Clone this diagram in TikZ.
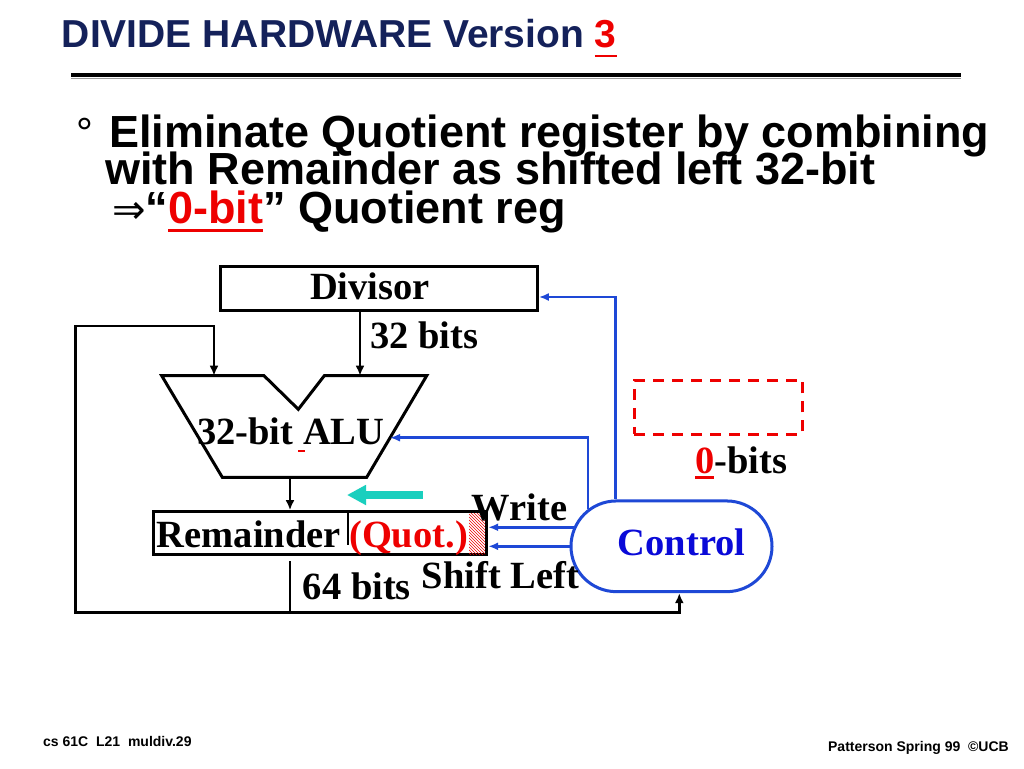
\documentclass[tikz,border=0pt]{standalone}
\usepackage{fontspec}
\setmainfont{Liberation Serif}
\newfontfamily\hvfont{Liberation Sans}
\newfontfamily\arrowglyph{DejaVu Sans}
\usetikzlibrary{arrows.meta,positioning,calc,patterns,shapes.misc}
\definecolor{Navy}{HTML}{14215A}
\definecolor{Hot}{HTML}{EE0000}
\definecolor{CtlLine}{HTML}{1E48D6}
\definecolor{CtlText}{HTML}{0A0AD8}
\definecolor{Shift}{HTML}{1ACFBE}
\definecolor{RuleGray}{HTML}{9A9A9A}
\newcommand{\redbar}[2][0.2em]{\setbox0=\hbox{#2}\rlap{\rule[-#1]{\wd0}{0.075em}}\box0}
\tikzset{
  heading/.style={anchor=base west,inner sep=0,text=Navy,font=\hvfont\bfseries\fontsize{39}{39}\selectfont},
  bullet/.style={anchor=base west,inner sep=0,font=\hvfont\bfseries\fontsize{45}{38}\selectfont},
  foot/.style={anchor=base west,inner sep=0,font=\hvfont\bfseries\fontsize{14}{14}\selectfont},
  lbl/.style={anchor=base west,inner sep=0,font=\bfseries\fontsize{38.5}{40}\selectfont},
  reg/.style={draw,line width=3pt,inner sep=0},
  wire/.style={draw,line width=2.8pt},
  feed/.style={wire,-{Latex[length=10pt,width=9pt]}},
  ctl/.style={draw=CtlLine,line width=2.8pt,-{Latex[length=10pt,width=8pt]}},
  ctlbox/.style={rounded rectangle,draw=CtlLine,line width=3pt,minimum width=201pt,minimum height=90.7pt,inner sep=0},
  shiftarrow/.style={draw=Shift,line width=7.5pt,-{Triangle[length=19pt,width=19pt]}},
  zerobox/.style={draw=Hot,line width=3pt,dash pattern=on 11pt off 8pt,minimum width=168pt,minimum height=54.3pt,inner sep=0}
}
\begin{document}
\begin{tikzpicture}[x=1pt,y=-1pt]
\useasboundingbox[fill=white] (0,0) rectangle (1024,768);
\node[heading] (head) at (61.7,47.3) {DIVIDE HARDWARE Version \textcolor{Hot}{\redbar[0.26em]{3}}};
\draw[line width=3.6pt] (71,74.8) -- (961,74.8);
\draw[RuleGray,line width=1.6pt] (71,78.6) -- (961,78.6);
\node[bullet,font=\hvfont\fontsize{42}{42}\selectfont] (dot) at (76,147) {°};
\node[bullet] (line1) at (109,147) {Eliminate Quotient register by combining};
\node[bullet] (line2) at (105,184) {with Remainder as shifted left 32-bit};
\node[bullet] (line3) at (112,223) {{\arrowglyph\mdseries\fontsize{40}{40}\selectfont ⇒}“\textcolor{Hot}{\redbar{0-bit}}” Quotient reg};
\node[foot] (course) at (43,746) {cs 61C~~L21~~muldiv.29};
\node[foot,anchor=base east] (owner) at (1009,751) {Patterson Spring 99~~©UCB};

\node[reg,minimum width=317.3pt,minimum height=44pt] (div) at (378.7,288.7) {};
\node[lbl,anchor=base] (divtext) at (370,299.3) {Divisor};
\node[lbl] (divbits) at (370,348) {32 bits};
\coordinate (aluA) at (214,375.7);
\coordinate (aluB) at (360,375.7);
\coordinate (aluO) at (290,477.3);
\coordinate (aluR) at (390,437.7);
\draw[wire,line width=3pt] (161.7,375.7) -- (264,375.7) -- (298.3,409.3) -- (324.3,375.7) -- (426.7,375.7) -- (366.7,477.3) -- (222.3,477.3) -- cycle;
\node[lbl] (alutext) at (197,444) {32-bit ALU};
\draw[Hot,line width=2.5pt] (298,451) -- (305,451);

\node[reg,minimum width=333.4pt,minimum height=43.3pt] (rem) at (320,533.3) {};
\fill[pattern=north west lines,pattern color=Hot] (469,513) rectangle (485.2,554);
\draw[wire] (348,512) -- (348,545);
\node[lbl] (remtext) at (156.7,547) {Remainder};
\node[lbl,text=Hot] (quot) at (349,547) {(Quot.)};

\node[ctlbox] (ctrl) at (671.5,546.3) {};
\node[lbl,anchor=base,text=CtlText] (ctrltext) at (681.7,555) {Control};
\node[zerobox] (zero) at (718.3,407.2) {};
\node[lbl] (zerobits) at (695,473) {\textcolor{Hot}{\redbar[0.15em]{0}}-bits};
\node[lbl] (write) at (471.7,520.5) {Write};
\node[lbl] (shiftleft) at (421.7,588.3) {Shift Left};
\node[lbl] (wide) at (302.7,599.3) {64 bits};

\coordinate (remout) at (290,561);
\coordinate (tap) at (290,612.7);
\coordinate (loopT) at (75.7,326);
\coordinate (shA) at (422.7,495);
\coordinate (shB) at (347,495);
\draw[feed] (div.south -| aluB) -- (aluB);
\draw[feed] (aluO) -- (aluO |- rem.north);
\draw[feed] (remout) -- (tap) -| (loopT) -| (aluA);
\draw[feed] (tap) -| ([xshift=7.8pt]ctrl.south);
\draw[ctl] (ctrl.140) |- ([yshift=-8.3pt]div.east);
\draw[ctl] (ctrl.156) |- (aluR);
\draw[ctl] (ctrl.169) -- (ctrl.169 -| rem.east);
\draw[ctl] (ctrl.west) -- (ctrl.west -| rem.east);
\draw[shiftarrow] (shA) -- (shB);
\end{tikzpicture}
\end{document}
